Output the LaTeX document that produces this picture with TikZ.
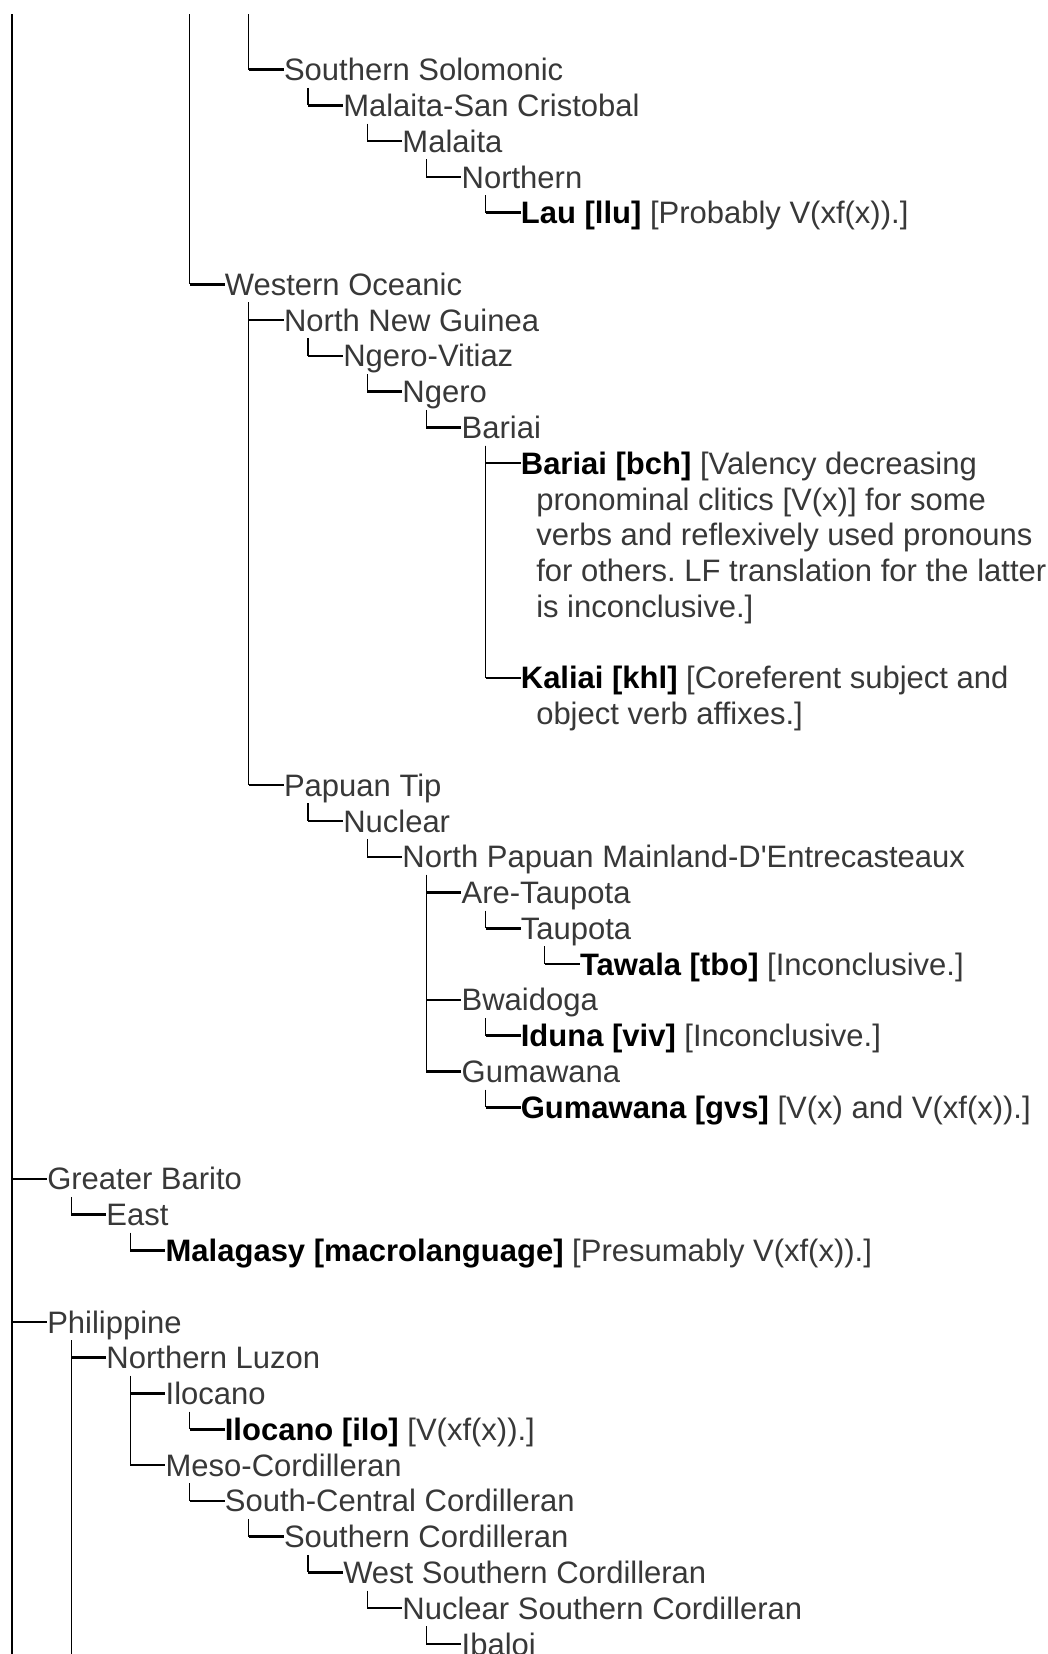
\documentclass[tikz,border=0pt]{standalone}
\usepackage{fontspec}
\setmainfont{Liberation Sans}
\usetikzlibrary{calc}
\frenchspacing
\begin{document}
\begin{tikzpicture}[x=0.75pt,y=-0.75pt,
  declare function={rowy(\k)=69.6+35.78*\k; txt(\k)=47+59.2*\k;},
  lbl/.style={anchor=west, inner sep=0pt, text height=21.74pt, text depth=5.09pt,
              font=\fontsize{23.25pt}{26.8pt}\selectfont, text=black!78},
  vline/.style={line width=1pt, black},
  hline/.style={line width=1.9pt, black}]
\useasboundingbox (0,0) rectangle (1048,1654);
\fill[white] (0,0) rectangle (1048,1654);

% Solomonic branch
\node[lbl] (ss)  at ({txt(4)},{rowy(0)}) {Southern Solomonic};
\node[lbl] (msc) at ({txt(5)},{rowy(1)}) {Malaita-San Cristobal};
\node[lbl] (mal) at ({txt(6)},{rowy(2)}) {Malaita};
\node[lbl] (nor) at ({txt(7)},{rowy(3)}) {Northern};
\node[lbl] (lau) at ({txt(8)},{rowy(4)}) {\textbf{\color{black}Lau [llu]} [Probably V(xf(x)).]};

% Western Oceanic
\node[lbl] (wo)  at ({txt(3)},{rowy(6)}) {Western Oceanic};
\node[lbl] (nng) at ({txt(4)},{rowy(7)}) {North New Guinea};
\node[lbl] (ngv) at ({txt(5)},{rowy(8)}) {Ngero-Vitiaz};
\node[lbl] (nge) at ({txt(6)},{rowy(9)}) {Ngero};
\node[lbl] (bar) at ({txt(7)},{rowy(10)}) {Bariai};
\node[lbl] (bch) at ({txt(8)},{rowy(11)}) {\textbf{\color{black}Bariai [bch]} [Valency decreasing};
\node[lbl] (bch2) at (536,{rowy(12)}) {pronominal clitics [V(x)] for some};
\node[lbl] (bch3) at (536,{rowy(13)}) {verbs and reflexively used pronouns};
\node[lbl] (bch4) at (536,{rowy(14)}) {for others. LF translation for the latter};
\node[lbl] (bch5) at (536,{rowy(15)}) {is inconclusive.]};
\node[lbl] (khl) at ({txt(8)},{rowy(17)}) {\textbf{\color{black}Kaliai [khl]} [Coreferent subject and};
\node[lbl] (khl2) at (536,{rowy(18)}) {object verb affixes.]};

\node[lbl] (pt)  at ({txt(4)},{rowy(20)}) {Papuan Tip};
\node[lbl] (nuc) at ({txt(5)},{rowy(21)}) {Nuclear};
\node[lbl] (npm) at ({txt(6)},{rowy(22)}) {North Papuan Mainland-D\textquotesingle Entrecasteaux};
\node[lbl] (at)  at ({txt(7)},{rowy(23)}) {Are-Taupota};
\node[lbl] (tau) at ({txt(8)},{rowy(24)}) {Taupota};
\node[lbl] (tbo) at ({txt(9)},{rowy(25)}) {\textbf{\color{black}Tawala [tbo]} [Inconclusive.]};
\node[lbl] (bwa) at ({txt(7)},{rowy(26)}) {Bwaidoga};
\node[lbl] (viv) at ({txt(8)},{rowy(27)}) {\textbf{\color{black}Iduna [viv]} [Inconclusive.]};
\node[lbl] (gum) at ({txt(7)},{rowy(28)}) {Gumawana};
\node[lbl] (gvs) at ({txt(8)},{rowy(29)}) {\textbf{\color{black}Gumawana [gvs]} [V(x) and V(xf(x)).]};

% Greater Barito
\node[lbl] (gb)   at ({txt(0)},{rowy(31)}) {Greater Barito};
\node[lbl] (east) at ({txt(1)},{rowy(32)}) {East};
\node[lbl] (mlg)  at ({txt(2)},{rowy(33)}) {\textbf{\color{black}Malagasy [macrolanguage]} [Presumably V(xf(x)).]};

% Philippine
\node[lbl] (phi)  at ({txt(0)},{rowy(35)}) {Philippine};
\node[lbl] (nlz)  at ({txt(1)},{rowy(36)}) {Northern Luzon};
\node[lbl] (ilc)  at ({txt(2)},{rowy(37)}) {Ilocano};
\node[lbl] (ilo)  at ({txt(3)},{rowy(38)}) {\textbf{\color{black}Ilocano [ilo]} [V(xf(x)).]};
\node[lbl] (meso) at ({txt(2)},{rowy(39)}) {Meso-Cordilleran};
\node[lbl] (scc)  at ({txt(3)},{rowy(40)}) {South-Central Cordilleran};
\node[lbl] (sco)  at ({txt(4)},{rowy(41)}) {Southern Cordilleran};
\node[lbl] (wsc)  at ({txt(5)},{rowy(42)}) {West Southern Cordilleran};
\node[lbl] (nsc)  at ({txt(6)},{rowy(43)}) {Nuclear Southern Cordilleran};
\node[lbl] (iba)  at ({txt(7)},{rowy(44)}) {Ibaloi};

% parent-to-child elbows
\foreach \p/\c in {ss/msc, msc/mal, mal/nor, nor/lau,
    wo/nng, wo/pt, nng/ngv, ngv/nge, nge/bar, bar/bch, bar/khl,
    pt/nuc, nuc/npm, npm/at, npm/bwa, npm/gum, at/tau, tau/tbo, bwa/viv, gum/gvs,
    gb/east, east/mlg,
    phi/nlz, nlz/ilc, nlz/meso, ilc/ilo, meso/scc, scc/sco, sco/wsc, wsc/nsc, nsc/iba}{
  \path (\c.west) ++(-35,0) coordinate (e);
  \draw[vline] (e |- \p.south) -- (e);
  \draw[hline] (e) -- (\c.west);
}

% branches whose parents lie beyond the edges
\coordinate (top0) at ({txt(0)-35},14);
\coordinate (top3) at ({txt(3)-35},14);
\coordinate (top4) at ({txt(4)-35},14);
\coordinate (bot0) at ({txt(0)-35},1654);
\coordinate (bot1) at ({txt(1)-35},1654);

\draw[vline] (top4) -- (top4 |- ss.west);
\draw[hline] (top4 |- ss.west) -- (ss.west);
\draw[vline] (top3) -- (top3 |- wo.west);
\draw[hline] (top3 |- wo.west) -- (wo.west);
\draw[vline] (top0) -- (bot0);
\draw[hline] (top0 |- gb.west) -- (gb.west);
\draw[hline] (top0 |- phi.west) -- (phi.west);
\draw[vline] (bot1 |- nlz.west) -- (bot1);
\end{tikzpicture}
\end{document}
